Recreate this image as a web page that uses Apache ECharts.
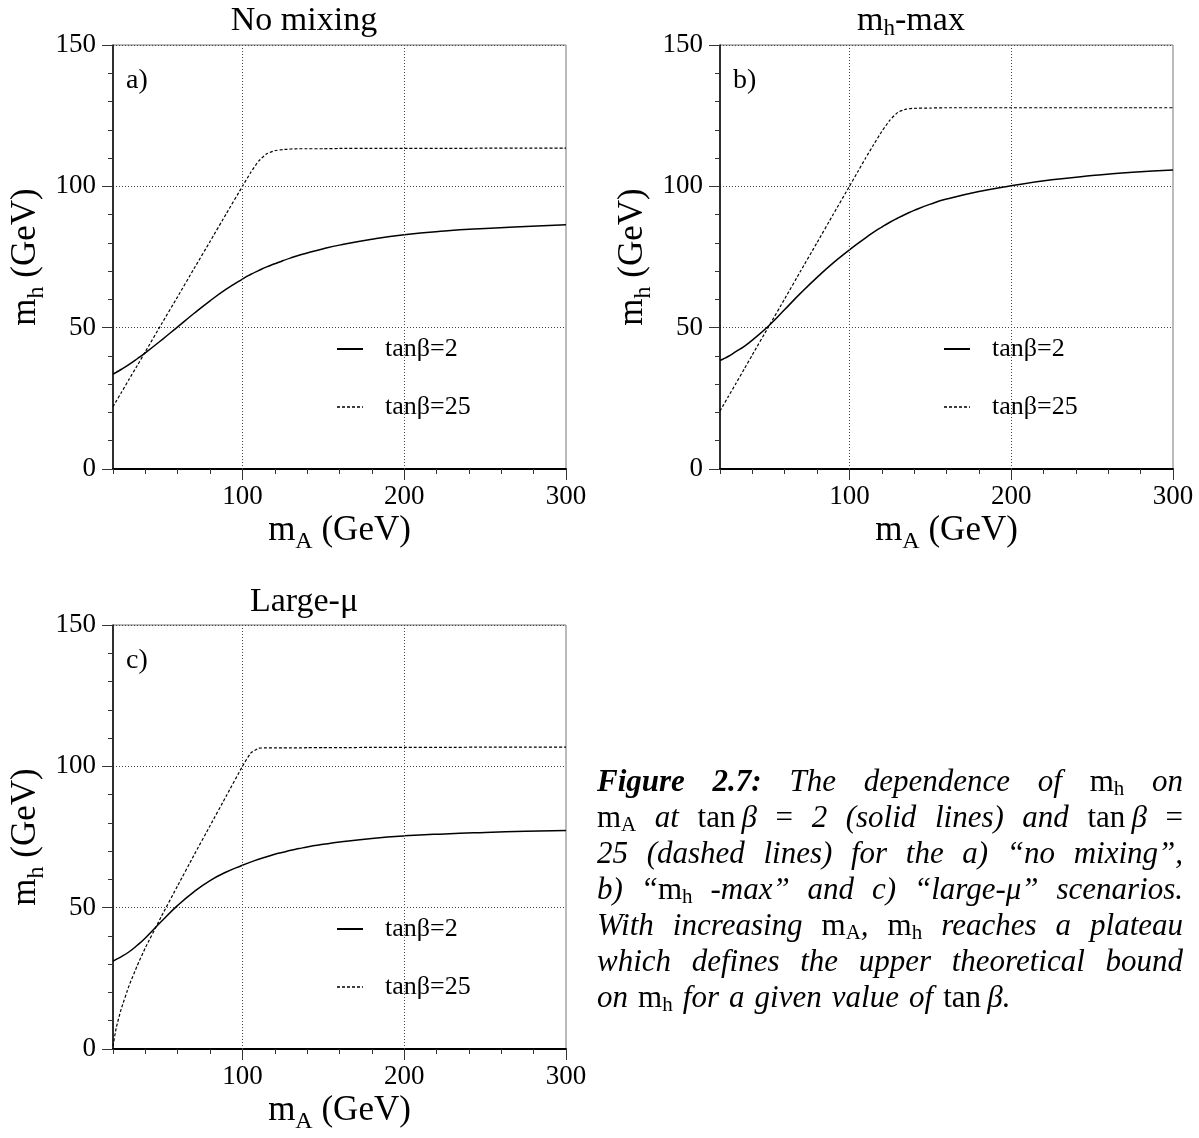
<!DOCTYPE html>
<html>
<head>
<meta charset="utf-8">
<script src="https://cdn.jsdelivr.net/npm/echarts@6/dist/echarts.min.js"></script>
<style>
  html, body { margin: 0; padding: 0; background: #fff; }
  #chart { width: 1199px; height: 1138px; }
</style>
</head>
<body>
<div id="chart"></div>
<script>
// ---------------- DATA ----------------
const mA = [20, 22, 25, 30, 35, 40, 50, 60, 70, 80, 90, 100, 105, 110, 115, 120, 125, 130, 135, 140, 150, 160, 180, 200, 225, 250, 275, 300];

// a) No mixing
const noMixTan2  = [33.6, 34.2, 35.2, 37.0, 39.0, 41.1, 45.6, 50.3, 55.0, 59.5, 63.6, 67.2, 68.8, 70.2, 71.5, 72.6, 73.7, 74.7, 75.6, 76.4, 77.9, 79.2, 81.3, 82.9, 84.2, 85.1, 85.8, 86.4];
const noMixTan25 = [22.0, 24.0, 26.9, 31.8, 36.6, 41.5, 51.3, 61.0, 70.8, 80.5, 90.3, 100.0, 104.8, 108.9, 111.5, 112.6, 113.0, 113.2, 113.3, 113.3, 113.3, 113.4, 113.4, 113.4, 113.4, 113.5, 113.5, 113.5];

// b) mh-max
const mhMaxTan2  = [38.4, 38.9, 39.8, 41.6, 43.4, 45.6, 50.6, 56.4, 62.3, 67.8, 72.9, 77.5, 79.7, 81.8, 83.8, 85.6, 87.3, 88.8, 90.2, 91.5, 93.7, 95.5, 98.2, 100.2, 102.3, 103.8, 105.0, 105.8];
const mhMaxTan25 = [20.5, 22.5, 25.5, 30.4, 35.4, 40.4, 50.3, 60.2, 70.2, 80.1, 90.1, 100.0, 105.0, 110.0, 114.8, 119.4, 123.4, 126.2, 127.3, 127.6, 127.7, 127.8, 127.8, 127.8, 127.8, 127.8, 127.8, 127.8];

// c) Large-mu
const largeMuTan2  = [31.1, 31.7, 32.6, 34.4, 36.7, 39.3, 45.2, 50.8, 55.6, 59.6, 62.6, 65.0, 66.1, 67.1, 68.0, 68.9, 69.6, 70.3, 70.9, 71.5, 72.4, 73.2, 74.5, 75.4, 76.1, 76.6, 77.0, 77.3];
const largeMuTan25 = [1.0, 7.5, 14.0, 22.5, 29.5, 35.8, 47.0, 57.8, 68.5, 79.0, 89.5, 100.0, 104.6, 106.4, 106.5, 106.5, 106.5, 106.5, 106.5, 106.6, 106.6, 106.6, 106.7, 106.7, 106.7, 106.8, 106.8, 106.8];

const xMajorTicks = [100, 200, 300];
const xGridLines = [100, 200];
const seriesNames = ['tanβ=2', 'tanβ=25'];
const panelLetters = ['a)', 'b)', 'c)'];

// ---------------- LAYOUT ----------------
const FAM = '"Liberation Serif", "Times New Roman", serif';
const panels = [
  { left: 113, top: 45,  title: [['R', 'No mixing']],            titleX: 304, titleY: 21,  lgX: 337, lgY: 335, s2: noMixTan2,  s25: noMixTan25 },
  { left: 720, top: 45,  title: [['R', 'm'], ['S', 'h'], ['R', '-max']], titleX: 911, titleY: 21,  lgX: 944, lgY: 335, s2: mhMaxTan2,  s25: mhMaxTan25 },
  { left: 113, top: 625, title: [['R', 'Large-μ']],              titleX: 304, titleY: 602, lgX: 337, lgY: 915, s2: largeMuTan2, s25: largeMuTan25 }
];
const PW = 453, PH = 424;

const ctx = document.createElement('canvas').getContext('2d');
function fontFor(kind, size) {
  const sub = Math.round(size * 0.68);
  switch (kind) {
    case 'B': return `italic bold ${size}px ${FAM}`;
    case 'I': return `italic ${size}px ${FAM}`;
    case 'R': return `${size}px ${FAM}`;
    case 'S': return `${sub}px ${FAM}`;
  }
}
function measure(font, t) { ctx.font = font; return ctx.measureText(t).width; }
function segWidth(segs, size) { return segs.reduce((s, g) => s + measure(fontFor(g[0], size), g[1]), 0); }
function emitSegs(out, segs, x, y, size) {
  let cx = x;
  segs.forEach(g => {
    const f = fontFor(g[0], size);
    out.push({
      type: 'text', x: cx, y: y + (g[0] === 'S' ? size * 0.22 : 0), silent: true,
      style: { text: g[1], font: f, fill: '#000', align: 'left', verticalAlign: 'middle', textAlign: 'left', textVerticalAlign: 'middle' }
    });
    cx += measure(f, g[1]);
  });
}

// ---------------- CAPTION ----------------
const captionLines = [
  [[['B', 'Figure']], [['B', '2.7:']], [['I', 'The']], [['I', 'dependence']], [['I', 'of']], [['R', 'm'], ['S', 'h']], [['I', 'on']]],
  [[['R', 'm'], ['S', 'A']], [['I', 'at']], [['R', 'tan\u2009'], ['I', 'β']], [['R', '=']], [['I', '2']], [['I', '(solid']], [['I', 'lines)']], [['I', 'and']], [['R', 'tan\u2009'], ['I', 'β']], [['R', '=']]],
  [[['I', '25']], [['I', '(dashed']], [['I', 'lines)']], [['I', 'for']], [['I', 'the']], [['I', 'a)']], [['I', '“no']], [['I', 'mixing”,']]],
  [[['I', 'b)']], [['I', '“'], ['R', 'm'], ['S', 'h']], [['I', '-max”']], [['I', 'and']], [['I', 'c)']], [['I', '“large-μ”']], [['I', 'scenarios.']]],
  [[['I', 'With']], [['I', 'increasing']], [['R', 'm'], ['S', 'A'], ['I', ',']], [['R', 'm'], ['S', 'h']], [['I', 'reaches']], [['I', 'a']], [['I', 'plateau']]],
  [[['I', 'which']], [['I', 'defines']], [['I', 'the']], [['I', 'upper']], [['I', 'theoretical']], [['I', 'bound']]],
  [[['I', 'on']], [['R', 'm'], ['S', 'h']], [['I', 'for']], [['I', 'a']], [['I', 'given']], [['I', 'value']], [['I', 'of']], [['R', 'tan\u2009'], ['I', 'β.']]]
];
const CAP = { x: 597, right: 1183, y0: 783, dy: 36, size: 31 };

const graphics = [];
captionLines.forEach((words, i) => {
  const y = CAP.y0 + i * CAP.dy;
  const widths = words.map(w => segWidth(w, CAP.size));
  const total = widths.reduce((a, b) => a + b, 0);
  const justify = i < captionLines.length - 1;
  const gap = justify ? (CAP.right - CAP.x - total) / (words.length - 1) : measure(fontFor('I', CAP.size), ' ') * 1.3;
  let x = CAP.x;
  words.forEach((w, k) => { emitSegs(graphics, w, x, y, CAP.size); x += widths[k] + gap; });
});

// titles and panel letters
panels.forEach((p, i) => {
  const w = segWidth(p.title, 34);
  emitSegs(graphics, p.title, p.titleX - w / 2, p.titleY, 34);
  graphics.push({
    type: 'text', x: p.left + 13, y: p.top + 36, silent: true,
    style: { text: panelLetters[i], font: `28px ${FAM}`, fill: '#000', align: 'left', verticalAlign: 'middle', textAlign: 'left', textVerticalAlign: 'middle' }
  });
});

// legend icons (solid and short-dashed line shapes)
function dashPath(w, h, on, off) {
  let d = '';
  for (let x = 0; x < w; x += on + off) d += `M${x},0H${Math.min(x + on, w)}V${h}H${x}Z`;
  return 'path://' + d;
}
const legendIcons = ['path://M0,0H26V2H0Z', dashPath(26, 1.5, 3, 2)];

// ---------------- OPTION ----------------
const nameRich = {
  m: { fontSize: 35, fontFamily: FAM, color: '#000', verticalAlign: 'middle' },
  s: { fontSize: 24, fontFamily: FAM, color: '#000', verticalAlign: 'bottom', padding: [22, 0, 0, 0] }
};

const grid = [], xAxis = [], yAxis = [], series = [], legend = [];
panels.forEach((p, i) => {
  grid.push({ left: p.left, top: p.top, width: PW, height: PH, show: true, borderColor: '#777', borderWidth: 1, backgroundColor: 'transparent' });
  xAxis.push({
    type: 'value', gridIndex: i, min: 20, max: 300, position: 'bottom',
    axisLine: { show: true, onZero: false, lineStyle: { color: '#000', width: 2 } },
    axisTick: { show: true, customValues: xMajorTicks, length: 11, lineStyle: { color: '#333', width: 1 } },
    axisLabel: { show: true, customValues: xMajorTicks, margin: 14, fontSize: 27, fontFamily: FAM, color: '#000' },
    splitLine: { show: false },
    name: '{m|m}{s|A}{m| (GeV)}', nameLocation: 'middle', nameGap: 39,
    nameTextStyle: { rich: nameRich }
  });
  xAxis.push({
    type: 'value', gridIndex: i, min: 20, max: 300, interval: 20, position: 'bottom',
    axisLine: { show: false, onZero: false },
    axisTick: { show: true, length: 5, lineStyle: { color: '#333', width: 1 } },
    axisLabel: { show: false }, splitLine: { show: false }
  });
  yAxis.push({
    type: 'value', gridIndex: i, min: 0, max: 150, interval: 50,
    axisLine: { show: true, onZero: false, lineStyle: { color: '#000', width: 1.5 } },
    axisTick: { show: true, length: 11, lineStyle: { color: '#333', width: 1 } },
    minorTick: { show: true, splitNumber: 5, length: 5, lineStyle: { color: '#333', width: 1 } },
    axisLabel: { margin: 17, fontSize: 27, fontFamily: FAM, color: '#000' },
    splitLine: { show: true, lineStyle: { color: '#444', width: 1, type: [1, 2] } },
    name: '{m|m}{s|h}{m| (GeV)}', nameLocation: 'middle', nameGap: 64, nameRotate: 90,
    nameTextStyle: { rich: nameRich }
  });
  series.push({
    name: seriesNames[0], type: 'line', xAxisIndex: 2 * i, yAxisIndex: i,
    data: mA.map((x, k) => [x, p.s2[k]]), symbol: 'none', showSymbol: false, smooth: 0.5,
    lineStyle: { color: '#000', width: 1.5, type: 'solid' }, itemStyle: { color: '#000' },
    silent: true, z: 3,
    markLine: {
      silent: true, symbol: 'none', label: { show: false },
      lineStyle: { color: '#444', width: 1, type: [1, 2] },
      data: xGridLines.map(v => ({ xAxis: v }))
    }
  });
  series.push({
    name: seriesNames[1], type: 'line', xAxisIndex: 2 * i, yAxisIndex: i,
    data: mA.map((x, k) => [x, p.s25[k]]), symbol: 'none', showSymbol: false, smooth: 0.15,
    lineStyle: { color: '#000', width: 1.2, type: [3, 2] }, itemStyle: { color: '#000' },
    silent: true, z: 3
  });
  legend.push({
    left: p.lgX, top: p.lgY, padding: 0, orient: 'vertical', itemWidth: 26, itemHeight: 2, itemGap: 30,
    selectedMode: false,
    data: seriesNames.map((n, k) => ({ name: n, icon: legendIcons[k], itemStyle: { color: '#000', borderWidth: 0 } })),
    textStyle: { fontSize: 26, fontFamily: FAM, color: '#000', lineHeight: 28, padding: [0, 0, 0, 17] }
  });
});

const chart = echarts.init(document.getElementById('chart'), null, { renderer: 'canvas' });
chart.setOption({
  backgroundColor: '#fff',
  animation: false,
  grid, xAxis, yAxis, series, legend,
  graphic: graphics
});
</script>
</body>
</html>
